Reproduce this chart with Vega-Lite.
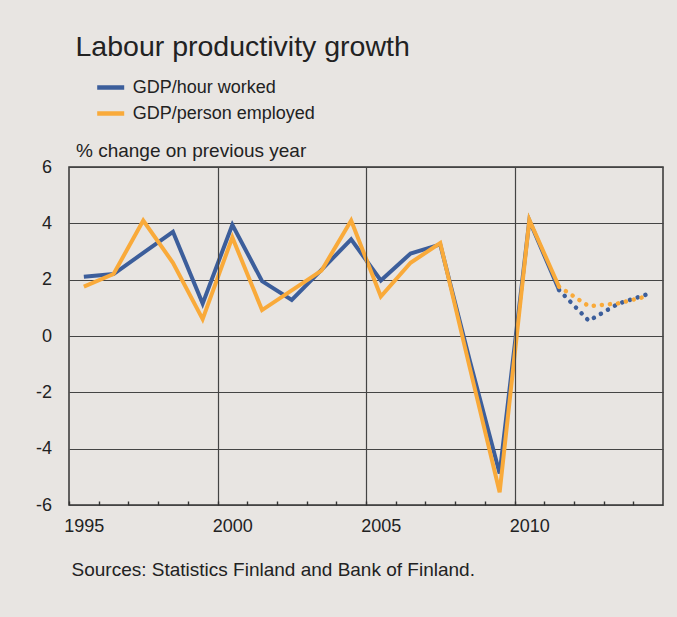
{
  "$schema": "https://vega.github.io/schema/vega-lite/v6.json",
  "width": 594,
  "height": 338,
  "autosize": {"type": "none"},
  "padding": {"left": 69, "top": 167, "right": 14, "bottom": 112},
  "background": "#e8e5e2",
  "config": {
    "font": "Liberation Sans",
    "view": {"stroke": "#333333", "strokeWidth": 1.5}
  },
  "title": {
    "text": "Labour productivity growth",
    "anchor": "start",
    "frame": "group",
    "fontSize": 28.5,
    "fontWeight": "normal",
    "color": "#222222",
    "baseline": "alphabetic",
    "offset": -13,
    "dx": 6.5
  },
  "data": {
    "values": [
      {"year": 1995, "value": 2.1, "series": "GDP/hour worked", "kind": "actual"},
      {"year": 1996, "value": 2.2, "series": "GDP/hour worked", "kind": "actual"},
      {"year": 1997, "value": 2.95, "series": "GDP/hour worked", "kind": "actual"},
      {"year": 1998, "value": 3.7, "series": "GDP/hour worked", "kind": "actual"},
      {"year": 1999, "value": 1.15, "series": "GDP/hour worked", "kind": "actual"},
      {"year": 2000, "value": 3.95, "series": "GDP/hour worked", "kind": "actual"},
      {"year": 2001, "value": 1.95, "series": "GDP/hour worked", "kind": "actual"},
      {"year": 2002, "value": 1.28, "series": "GDP/hour worked", "kind": "actual"},
      {"year": 2003, "value": 2.35, "series": "GDP/hour worked", "kind": "actual"},
      {"year": 2004, "value": 3.43, "series": "GDP/hour worked", "kind": "actual"},
      {"year": 2005, "value": 1.97, "series": "GDP/hour worked", "kind": "actual"},
      {"year": 2006, "value": 2.93, "series": "GDP/hour worked", "kind": "actual"},
      {"year": 2007, "value": 3.25, "series": "GDP/hour worked", "kind": "actual"},
      {"year": 2008, "value": -0.9, "series": "GDP/hour worked", "kind": "actual"},
      {"year": 2009, "value": -4.88, "series": "GDP/hour worked", "kind": "actual"},
      {"year": 2010, "value": 4.1, "series": "GDP/hour worked", "kind": "actual"},
      {"year": 2011, "value": 1.63, "series": "GDP/hour worked", "kind": "actual"},
      {"year": 2011, "value": 1.63, "series": "GDP/hour worked", "kind": "forecast"},
      {"year": 2012, "value": 0.54, "series": "GDP/hour worked", "kind": "forecast"},
      {"year": 2013, "value": 1.15, "series": "GDP/hour worked", "kind": "forecast"},
      {"year": 2014, "value": 1.49, "series": "GDP/hour worked", "kind": "forecast"},
      {"year": 1995, "value": 1.75, "series": "GDP/person employed", "kind": "actual"},
      {"year": 1996, "value": 2.2, "series": "GDP/person employed", "kind": "actual"},
      {"year": 1997, "value": 4.1, "series": "GDP/person employed", "kind": "actual"},
      {"year": 1998, "value": 2.6, "series": "GDP/person employed", "kind": "actual"},
      {"year": 1999, "value": 0.6, "series": "GDP/person employed", "kind": "actual"},
      {"year": 2000, "value": 3.5, "series": "GDP/person employed", "kind": "actual"},
      {"year": 2001, "value": 0.92, "series": "GDP/person employed", "kind": "actual"},
      {"year": 2002, "value": 1.62, "series": "GDP/person employed", "kind": "actual"},
      {"year": 2003, "value": 2.32, "series": "GDP/person employed", "kind": "actual"},
      {"year": 2004, "value": 4.1, "series": "GDP/person employed", "kind": "actual"},
      {"year": 2005, "value": 1.4, "series": "GDP/person employed", "kind": "actual"},
      {"year": 2006, "value": 2.6, "series": "GDP/person employed", "kind": "actual"},
      {"year": 2007, "value": 3.3, "series": "GDP/person employed", "kind": "actual"},
      {"year": 2008, "value": -1.15, "series": "GDP/person employed", "kind": "actual"},
      {"year": 2009, "value": -5.55, "series": "GDP/person employed", "kind": "actual"},
      {"year": 2010, "value": 4.12, "series": "GDP/person employed", "kind": "actual"},
      {"year": 2011, "value": 1.75, "series": "GDP/person employed", "kind": "actual"},
      {"year": 2011, "value": 1.75, "series": "GDP/person employed", "kind": "forecast"},
      {"year": 2012, "value": 1.06, "series": "GDP/person employed", "kind": "forecast"},
      {"year": 2013, "value": 1.16, "series": "GDP/person employed", "kind": "forecast"},
      {"year": 2014, "value": 1.42, "series": "GDP/person employed", "kind": "forecast"}
    ]
  },
  "encoding": {
    "x": {
      "field": "year",
      "type": "quantitative",
      "scale": {"domain": [1994.5, 2014.5], "nice": false, "zero": false},
      "axis": {
        "values": [1994.5, 1995.5, 1996.5, 1997.5, 1998.5, 1999.5, 2000.5, 2001.5, 2002.5, 2003.5, 2004.5, 2005.5, 2006.5, 2007.5, 2008.5, 2009.5, 2010.5, 2011.5, 2012.5, 2013.5],
        "labelExpr": "(datum.value - 1994.5) % 5 === 0 ? '' + (datum.value + 0.5) : ''",
        "labelOverlap": false,
        "labelBound": false,
        "labelFlush": false,
        "labelAlign": "center",
        "labelOffset": 14.85,
        "labelFontSize": 18,
        "labelColor": "#222222",
        "labelBaseline": "alphabetic",
        "labelPadding": 26,
        "offset": -4,
        "ticks": true,
        "tickSize": 4,
        "tickWidth": 1.4,
        "tickColor": "#333333",
        "grid": true,
        "gridWidth": 1.2,
        "gridColor": {"condition": {"test": "datum.value === 1999.5 || datum.value === 2004.5 || datum.value === 2009.5", "value": "#444444"}, "value": "rgba(0,0,0,0)"},
        "domain": false,
        "zindex": 1,
        "title": "Sources: Statistics Finland and Bank of Finland.",
        "titleX": 2,
        "titleY": 74,
        "titleAlign": "left",
        "titleAnchor": "start",
        "titleBaseline": "alphabetic",
        "titleFontSize": 19,
        "titleFontWeight": "normal",
        "titleColor": "#222222"
      }
    },
    "y": {
      "field": "value",
      "type": "quantitative",
      "scale": {"domain": [-6, 6], "nice": false, "zero": false},
      "axis": {
        "values": [-6, -4, -2, 0, 2, 4, 6],
        "labelExpr": "datum.value < 0 ? '-' + abs(datum.value) : '' + datum.value",
        "ticks": false,
        "tickSize": 0,
        "domain": false,
        "grid": true,
        "gridColor": "#444444",
        "gridWidth": 1.2,
        "labelFontSize": 18,
        "labelPadding": 17.5,
        "labelColor": "#222222",
        "title": "% change on previous year",
        "titleAngle": 0,
        "titleAlign": "left",
        "titleBaseline": "alphabetic",
        "titleX": 6.5,
        "titleY": -11,
        "titleFontSize": 19,
        "titleFontWeight": "normal",
        "titleColor": "#222222"
      }
    }
  },
  "layer": [
    {
      "transform": [{"filter": "datum.kind === 'actual'"}],
      "mark": {"type": "line", "strokeWidth": 4},
      "encoding": {
        "color": {
          "field": "series",
          "type": "nominal",
          "scale": {"domain": ["GDP/hour worked", "GDP/person employed"], "range": ["#3c5e9b", "#f9aa3a"]},
          "legend": {
            "orient": "none",
            "legendX": 25.7,
            "legendY": -95.5,
            "title": null,
            "symbolType": "stroke",
            "symbolSize": 729,
            "symbolStrokeWidth": 4.5,
            "labelFontSize": 18,
            "labelLimit": 0,
            "labelColor": "#222222",
            "labelOffset": 6,
            "rowPadding": 1,
            "padding": 0
          }
        }
      }
    },
    {
      "transform": [{"filter": "datum.kind === 'forecast'"}],
      "mark": {"type": "line", "strokeWidth": 4.5, "strokeDash": [0.1, 8], "strokeCap": "round"},
      "encoding": {
        "color": {"field": "series", "type": "nominal", "legend": null}
      }
    }
  ]
}
